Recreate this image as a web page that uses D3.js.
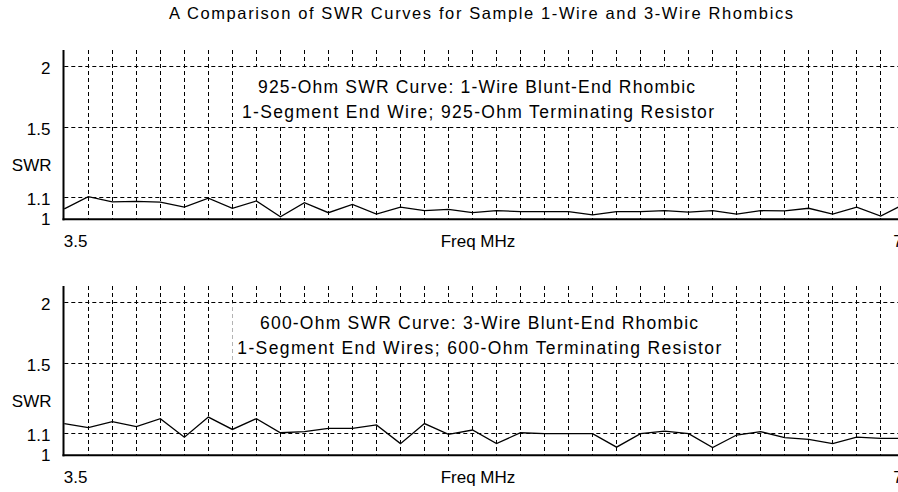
<!DOCTYPE html>
<html>
<head>
<meta charset="utf-8">
<script src="https://cdn.jsdelivr.net/npm/d3@7"></script>
<style>
  html, body { margin: 0; padding: 0; background: #fff; }
  svg { display: block; }
  text { font-family: "Liberation Sans", Arial, sans-serif; fill: #000; }
</style>
</head>
<body>
<svg id="chart" width="898" height="492"></svg>
<script>
// ---------------- data ----------------
const titleText = "A Comparison of SWR Curves for Sample 1-Wire and 3-Wire Rhombics";
const freqMHz = [3.5, 3.6, 3.7, 3.8, 3.9, 4.0, 4.1, 4.2, 4.3, 4.4, 4.5, 4.6, 4.7, 4.8, 4.9,
                 5.0, 5.1, 5.2, 5.3, 5.4, 5.5, 5.6, 5.7, 5.8, 5.9, 6.0, 6.1, 6.2, 6.3, 6.4,
                 6.5, 6.6, 6.7, 6.8, 6.9, 7.0];
const swr925 = [1.046, 1.103, 1.079, 1.081, 1.077, 1.054, 1.096, 1.049, 1.083, 1.011,
                1.075, 1.029, 1.067, 1.023, 1.054, 1.038, 1.044, 1.029, 1.038, 1.034,
                1.034, 1.034, 1.019, 1.034, 1.034, 1.038, 1.032, 1.038, 1.023, 1.038,
                1.037, 1.049, 1.023, 1.054, 1.014, 1.069];
const swr600 = [1.148, 1.128, 1.158, 1.133, 1.173, 1.082, 1.181, 1.119, 1.173, 1.103,
                1.108, 1.124, 1.124, 1.141, 1.052, 1.148, 1.095, 1.116, 1.052, 1.103,
                1.099, 1.099, 1.099, 1.036, 1.099, 1.111, 1.099, 1.034, 1.092, 1.108,
                1.080, 1.072, 1.052, 1.082, 1.076, 1.076];
const swrTicks = [1, 1.1, 1.5, 2];
const swrTickLabels = ["1", "1.1", "1.5", "2"];
const xTickValues = [3.5, 7];
const xTickLabels = ["3.5", "7"];
const xGridValues = freqMHz.slice(1);
const yAxisTitle = "SWR";
const xAxisTitle = "Freq MHz";
const panelNotes = [
  ["925-Ohm SWR Curve: 1-Wire Blunt-End Rhombic", "1-Segment End Wire; 925-Ohm Terminating Resistor"],
  ["600-Ohm SWR Curve: 3-Wire Blunt-End Rhombic", "1-Segment End Wires; 600-Ohm Terminating Resistor"]
];
const panelSeries = [swr925, swr600];

// ---------------- layout ----------------
const W = 898, H = 492;
const svg = d3.select("#chart");
const x = d3.scaleLinear().domain([3.5, 7.0]).range([64.3, 904.7]);
const plotRight = 898;
const rho = s => (s - 1) / (s + 1);   // SWR axis is linear in reflection coefficient
const K = 460.8;
const panels = [
  { top: 50,  base: 219.3, noteBase: [93, 118],   noteW: [437, 472], noteCx: [476.5, 478] },
  { top: 286, base: 455.3, noteBase: [328.5, 353.5], noteW: [438, 484], noteCx: [479, 479.3] }
];

svg.append("rect").attr("width", W).attr("height", H).attr("fill", "#fff");

svg.append("text")
  .attr("x", 481).attr("y", 18.5)
  .attr("text-anchor", "middle")
  .attr("font-size", 16.5)
  .attr("textLength", 624).attr("lengthAdjust", "spacing")
  .text(titleText);

const dash = "4,3";

panels.forEach((p, pi) => {
  const dom = d3.range(0, 121).map(i => 1 + i / 100);
  const y = d3.scaleLinear().domain(dom).range(dom.map(s => p.base - K * rho(s)));
  const g = svg.append("g");

  // vertical grid
  g.append("g").selectAll("line").data(xGridValues).join("line")
    .attr("x1", d => x(d)).attr("x2", d => x(d))
    .attr("y1", p.top).attr("y2", p.base)
    .attr("stroke", "#000").attr("stroke-width", 1)
    .attr("stroke-dasharray", dash).attr("shape-rendering", "crispEdges");

  // note texts (with white backing)
  const noteG = g.append("g");
  const noteTexts = panelNotes[pi].map((t, i) =>
    noteG.append("text")
      .attr("x", p.noteCx[i]).attr("y", p.noteBase[i])
      .attr("text-anchor", "middle")
      .attr("font-size", 17.5)
      .attr("textLength", p.noteW[i]).attr("lengthAdjust", "spacing")
      .text(t));
  let x0 = Infinity, x1 = -Infinity;
  noteTexts.forEach(t => { const b = t.node().getBBox(); x0 = Math.min(x0, b.x); x1 = Math.max(x1, b.x + b.width); });
  noteG.insert("rect", "text")
    .attr("x", x0 - 5).attr("width", (x1 - x0) + 10)
    .attr("y", y(2) + 1).attr("height", y(1.5) - y(2) - 2)
    .attr("fill", "#fff");

  // horizontal grid
  g.append("g").selectAll("line").data(swrTicks.filter(v => v > 1)).join("line")
    .attr("x1", x(3.5)).attr("x2", plotRight)
    .attr("y1", d => Math.round(y(d)) + 0.5).attr("y2", d => Math.round(y(d)) + 0.5)
    .attr("stroke", "#000").attr("stroke-width", 1)
    .attr("stroke-dasharray", dash);

  // data line
  const line = d3.line().x((d, i) => x(freqMHz[i])).y(d => y(d));
  g.append("path").datum(panelSeries[pi])
    .attr("d", line).attr("fill", "none")
    .attr("stroke", "#000").attr("stroke-width", 1.3);

  // axes lines
  g.append("line").attr("x1", 63.5).attr("x2", 63.5).attr("y1", p.top).attr("y2", p.base + 1)
    .attr("stroke", "#000").attr("stroke-width", 2);
  g.append("line").attr("x1", 62.5).attr("x2", plotRight).attr("y1", p.base).attr("y2", p.base)
    .attr("stroke", "#000").attr("stroke-width", 2);

  // y tick labels via d3 axis
  const ax = d3.axisLeft(y).tickValues(swrTicks)
    .tickFormat((d, i) => swrTickLabels[i]).tickSize(0).tickPadding(0);
  const axG = g.append("g").attr("transform", "translate(50.5,0)").call(ax);
  axG.select(".domain").remove();
  axG.selectAll("text").attr("font-size", 17).attr("font-family", null)
    .attr("dy", (d) => d === 1 ? "0.33em" : "0.44em");
  axG.attr("font-family", null).attr("font-size", null);

  // y title
  g.append("text").attr("x", 51.5).attr("y", p.top + 120.7)
    .attr("text-anchor", "end").attr("font-size", 17).text(yAxisTitle);

  // x labels
  g.selectAll(".xl").data(xTickValues).join("text")
    .attr("x", (d, i) => i === 0 ? x(d) - 0.5 : x(d) - 2)
    .attr("y", p.base + 28)
    .attr("text-anchor", (d, i) => i === 0 ? "start" : "end")
    .attr("font-size", 17)
    .text((d, i) => xTickLabels[i]);
  g.append("text").attr("x", 478).attr("y", p.base + 28)
    .attr("text-anchor", "middle").attr("font-size", 17).text(xAxisTitle);
});
</script>
</body>
</html>
